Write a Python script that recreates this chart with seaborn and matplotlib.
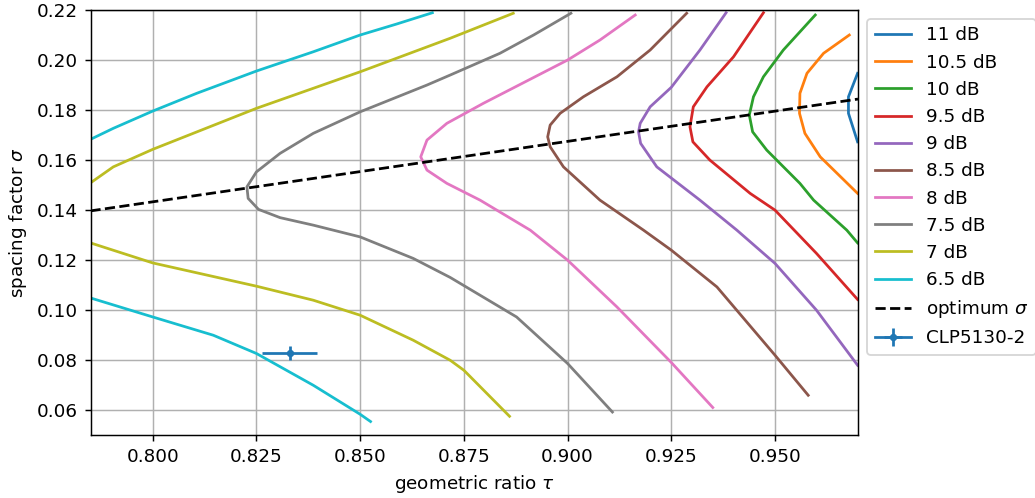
import numpy as np
import pandas as pd
import matplotlib
matplotlib.use("Agg")
import matplotlib.pyplot as plt
import seaborn as sns

# Gain contours (tau, sigma)
tau_11 = [0.9699, 0.9677, 0.9677, 0.9699]
sig_11 = [0.1947, 0.1853, 0.1787, 0.1673]

tau_105 = [0.9679, 0.9617, 0.9577, 0.9560, 0.9559, 0.9572, 0.9609, 0.9699]
sig_105 = [0.2100, 0.2027, 0.1947, 0.1867, 0.1787, 0.1707, 0.1613, 0.1467]

tau_10 = [0.9597, 0.9520, 0.9472, 0.9448, 0.9438, 0.9446, 0.9480, 0.9560, 0.9593, 0.9673, 0.9699]
sig_10 = [0.2180, 0.2040, 0.1933, 0.1853, 0.1780, 0.1713, 0.1640, 0.1507, 0.1440, 0.1320, 0.1269]

tau_95 = [0.9472, 0.9400, 0.9336, 0.9303, 0.9295, 0.9302, 0.9343, 0.9440, 0.9500, 0.9600, 0.9699]
sig_95 = [0.2189, 0.2013, 0.1893, 0.1813, 0.1733, 0.1673, 0.1600, 0.1467, 0.1400, 0.1227, 0.1043]

tau_9 = [0.9382, 0.9319, 0.9250, 0.9199, 0.9175, 0.9171, 0.9176, 0.9215, 0.9319, 0.9408, 0.9500, 0.9600, 0.9699]
sig_9 = [0.2189, 0.2040, 0.1891, 0.1813, 0.1747, 0.1713, 0.1667, 0.1573, 0.1440, 0.1320, 0.1187, 0.1000, 0.0780]

tau_85 = [0.9287, 0.9199, 0.9119, 0.9038, 0.8982, 0.8958, 0.8952, 0.8958, 0.8990, 0.9078, 0.9183, 0.9250, 0.9360, 0.9500, 0.9580]
sig_85 = [0.2187, 0.2040, 0.1933, 0.1853, 0.1787, 0.1740, 0.1693, 0.1653, 0.1573, 0.1440, 0.1320, 0.1240, 0.1093, 0.0820, 0.0660]

tau_8 = [0.9163, 0.9078, 0.9000, 0.8797, 0.8709, 0.8661, 0.8646, 0.8661, 0.8709, 0.8789, 0.8910, 0.9000, 0.9119, 0.9250, 0.9350]
sig_8 = [0.2180, 0.2080, 0.2000, 0.1827, 0.1747, 0.1680, 0.1613, 0.1560, 0.1507, 0.1440, 0.1320, 0.1200, 0.1013, 0.0791, 0.0611]

tau_75 = [0.9008, 0.8918, 0.8837, 0.8717, 0.8661, 0.8500, 0.8387, 0.8307, 0.8250, 0.8227, 0.8230, 0.8255, 0.8307,
          0.8387, 0.8500, 0.8628, 0.8717, 0.8877, 0.9000, 0.9108]
sig_75 = [0.2187, 0.2100, 0.2027, 0.1940, 0.1900, 0.1793, 0.1707, 0.1627, 0.1553, 0.1493, 0.1447, 0.1403, 0.1370,
          0.1340, 0.1293, 0.1207, 0.1131, 0.0973, 0.0787, 0.0593]

tau_7u = [0.785, 0.7905, 0.800, 0.825, 0.850, 0.8717, 0.8869]
sig_7u = [0.1509, 0.1573, 0.1643, 0.1807, 0.1953, 0.2087, 0.2187]
tau_7l = [0.785, 0.800, 0.825, 0.8387, 0.850, 0.8628, 0.8717, 0.875, 0.886]
sig_7l = [0.1269, 0.1189, 0.1096, 0.1040, 0.0980, 0.0880, 0.0800, 0.0760, 0.0576]

tau_65u = [0.785, 0.7905, 0.800, 0.8106, 0.825, 0.8387, 0.850, 0.8588, 0.8674]
sig_65u = [0.1683, 0.1727, 0.1796, 0.1867, 0.1956, 0.2033, 0.2100, 0.2144, 0.2189]
tau_65l = [0.785, 0.800, 0.8146, 0.825, 0.8387, 0.850, 0.8525]
sig_65l = [0.1049, 0.0973, 0.0900, 0.0827, 0.0700, 0.0584, 0.0555]

opt_tau = [0.785, 0.970]
opt_sig = [0.1397, 0.1844]

clp_tau = 0.833
clp_sig = 0.0829
clp_tau_err = 0.0066
clp_sig_err = 0.0027

labels = ["11 dB", "10.5 dB", "10 dB", "9.5 dB", "9 dB", "8.5 dB", "8 dB", "7.5 dB", "7 dB", "6.5 dB"]
curves = [
    [(tau_11, sig_11)],
    [(tau_105, sig_105)],
    [(tau_10, sig_10)],
    [(tau_95, sig_95)],
    [(tau_9, sig_9)],
    [(tau_85, sig_85)],
    [(tau_8, sig_8)],
    [(tau_75, sig_75)],
    [(tau_7u, sig_7u), (tau_7l, sig_7l)],
    [(tau_65u, sig_65u), (tau_65l, sig_65l)],
]

DPI = 132
fig = plt.figure(figsize=(1035 / DPI, 498 / DPI), dpi=DPI)
ax = fig.add_axes([90.5 / 1035, 1 - 435.3 / 498, (858 - 90.5) / 1035, (435.3 - 10) / 498])
palette = sns.color_palette("tab10", 10)

for i, (lab, segs) in enumerate(zip(labels, curves)):
    for j, (t, s) in enumerate(segs):
        sns.lineplot(x=t, y=s, sort=False, estimator=None, color=palette[i],
                     label=lab if j == 0 else None, ax=ax, linewidth=1.5)

sns.lineplot(x=opt_tau, y=opt_sig, sort=False, estimator=None, color="black",
             linestyle="--", label=r"optimum $\sigma$", ax=ax, linewidth=1.5)
ax.errorbar([clp_tau], [clp_sig], xerr=[clp_tau_err], yerr=[clp_sig_err], fmt=".-",
            color=palette[0], label="CLP5130-2")

ax.set_xlim(0.785, 0.970)
ax.set_ylim(0.05, 0.22)
ax.set_xticks([0.800, 0.825, 0.850, 0.875, 0.900, 0.925, 0.950])
ax.set_yticks([0.06, 0.08, 0.10, 0.12, 0.14, 0.16, 0.18, 0.20, 0.22])
ax.grid(True, color="#b0b0b0", linewidth=0.8)
ax.set_axisbelow(True)
ax.set_xlabel(r"geometric ratio $\tau$")
ax.set_ylabel(r"spacing factor $\sigma$")
ax.legend(loc="upper left", bbox_to_anchor=(1.0, 1.0))

fig.savefig("out.png", dpi=DPI)
